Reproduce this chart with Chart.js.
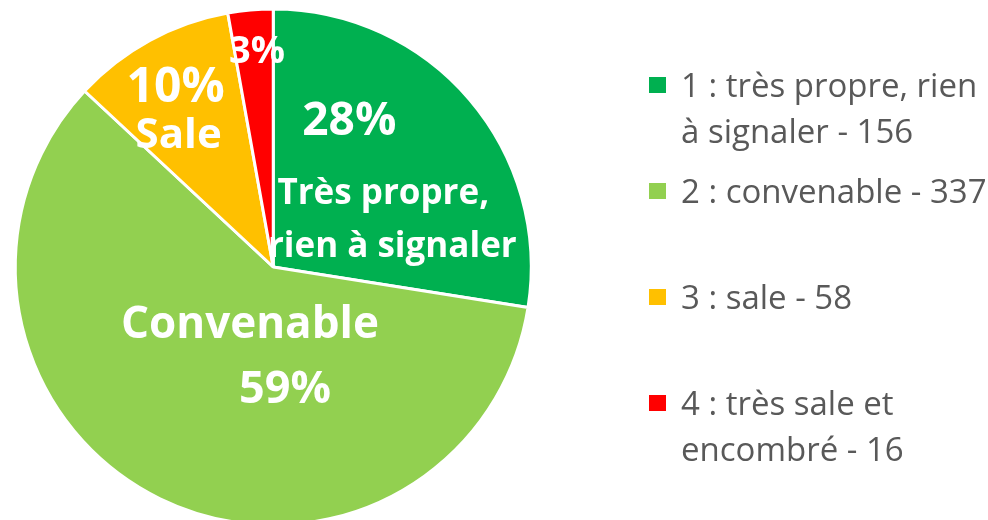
<!DOCTYPE html>
<html>
<head>
<meta charset="utf-8">
<title>Propreté</title>
<script src="https://cdn.jsdelivr.net/npm/chart.js@4.4.1/dist/chart.umd.min.js"></script>
<style>
    html, body { margin: 0; padding: 0; background: #fff; overflow: hidden; }
    #wrap { position: relative; width: 988px; height: 540px; }
</style>
</head>
<body>
<div id="wrap"><canvas id="chart"></canvas></div>
<script>
// -----------------------------
// DATA
// -----------------------------
const categories = [
    "1 : très propre, rien à signaler",
    "2 : convenable",
    "3 : sale",
    "4 : très sale et encombré"
];
const counts = [156, 337, 58, 16];
const sliceColors = ["#00B050", "#92D050", "#FFC000", "#FF0000"];

// text written inside each slice ("{p}" = percentage)
const sliceLabels = [
    ["{p}", "Très propre,", "rien à signaler"],
    ["Convenable", "{p}"],
    ["{p}", "Sale"],
    ["{p}"]
];


// -----------------------------
// LABEL PLACEMENT (style only)
// -----------------------------
// r = fraction of radius along the slice middle, then per-line offsets
const labelPlace = [
    { r: 0.52, lines: [{ dx: -26, dy: -45, size: 46 }, { dx: 8, dy: 24, size: 35 }, { dx: 17, dy: 77, size: 35 }] },
    { r: 0.40, lines: [{ dx: 22, dy: -22, size: 44 }, { dx: 57, dy: 43, size: 45 }] },
    { r: 0.71, lines: [{ dx: -10, dy: -4, size: 48 }, { dx: -7, dy: 42, size: 42 }] },
    { r: 0.84, lines: [{ dx: 3, dy: 12, size: 38 }] }
];

const FONT = "'Open Sans', 'DejaVu Sans', sans-serif";


// -----------------------------
// PLUGINS
// -----------------------------
const sliceLabelPlugin = {
    id: "sliceLabels",
    afterDatasetsDraw(chart) {
        const ctx = chart.ctx;
        const meta = chart.getDatasetMeta(0);
        const data = chart.data.datasets[0].data;
        const total = data.reduce((a, b) => a + b, 0);

        ctx.save();
        ctx.fillStyle = "#FFFFFF";
        ctx.textAlign = "center";
        ctx.textBaseline = "alphabetic";

        meta.data.forEach((arc, i) => {
            const p = arc.getProps(["x", "y", "startAngle", "endAngle", "outerRadius"], true);
            const mid = (p.startAngle + p.endAngle) / 2;
            const place = labelPlace[i];
            const ax = p.x + Math.cos(mid) * p.outerRadius * place.r;
            const ay = p.y + Math.sin(mid) * p.outerRadius * place.r;
            const pct = Math.round(data[i] / total * 100) + "%";

            sliceLabels[i].forEach((txt, j) => {
                const ln = place.lines[j];
                ctx.font = "bold " + ln.size + "px " + FONT;
                ctx.fillText(txt.replace("{p}", pct), ax + ln.dx, ay + ln.dy);
            });
        });
        ctx.restore();
    }
};

const sideLegendPlugin = {
    id: "sideLegend",
    afterDraw(chart) {
        const ctx = chart.ctx;
        const ds = chart.data.datasets[0];
        const maxWidth = 306;
        const lineGap = 46;
        const itemGap = 106;

        ctx.save();
        ctx.font = "33px " + FONT;
        ctx.textAlign = "left";
        ctx.textBaseline = "alphabetic";

        chart.data.labels.forEach((label, i) => {
            const cy = 85 + i * itemGap;

            ctx.fillStyle = ds.backgroundColor[i];
            ctx.fillRect(649, cy - 8, 17, 16);

            // simple word wrap
            const words = (label + " - " + ds.data[i]).split(" ");
            const lines = [];
            let cur = "";
            words.forEach(w => {
                const test = cur ? cur + " " + w : w;
                if (ctx.measureText(test).width > maxWidth && cur) {
                    lines.push(cur);
                    cur = w;
                } else {
                    cur = test;
                }
            });
            lines.push(cur);

            ctx.fillStyle = "#595959";
            lines.forEach((t, k) => ctx.fillText(t, 681, cy + 12 + k * lineGap));
        });
        ctx.restore();
    }
};


// -----------------------------
// CHART
// -----------------------------
const ctx = document.getElementById("chart").getContext("2d");

const pieChart = new Chart(ctx, {
    type: "pie",
    data: {
        labels: categories,
        datasets: [{
            data: counts,
            backgroundColor: sliceColors,
            borderColor: "#FFFFFF",
            borderWidth: 3
        }]
    },
    options: {
        responsive: true,
        maintainAspectRatio: false,
        animation: false,
        layout: {
            padding: { left: 13.5, top: 7.5, right: 455, bottom: 13.5 }
        },
        plugins: {
            legend: { display: false },
            tooltip: { enabled: false }
        }
    },
    plugins: [sliceLabelPlugin, sideLegendPlugin]
});
</script>
</body>
</html>
